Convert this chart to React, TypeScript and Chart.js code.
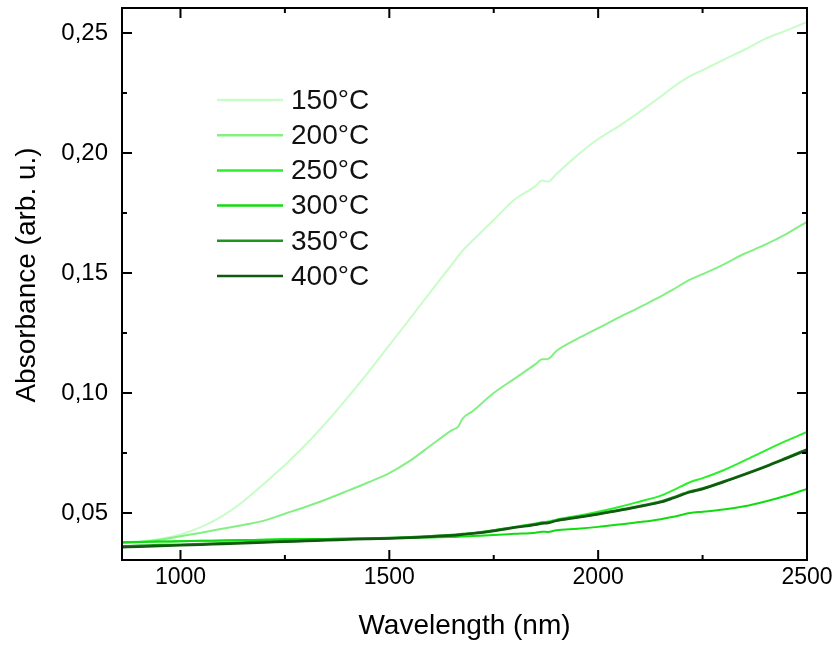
import { useEffect, useRef } from "react";
import { Chart, registerables } from "chart.js";

Chart.register(...registerables);

// ---- data ----
const WAVELENGTHS = [
  860, 900, 950, 1000, 1050, 1100, 1150, 1200, 1250, 1300, 1350, 1400, 1450, 1500, 1550, 1600, 1650, 1665,
  1675, 1700, 1750, 1800, 1850, 1865, 1880, 1900, 1950, 2000, 2050, 2100, 2150, 2180, 2220, 2250, 2300, 2350,
  2400, 2450, 2500,
];

const ABS_150 = [
  0.0378, 0.0382, 0.0392, 0.041, 0.0442, 0.0487, 0.0548, 0.0622, 0.07, 0.0785, 0.0879, 0.0981, 0.1087, 0.1199,
  0.1311, 0.1424, 0.1536, 0.157, 0.1592, 0.1636, 0.1721, 0.1806, 0.1862, 0.1885, 0.188, 0.1912, 0.199, 0.2058,
  0.2112, 0.2172, 0.2235, 0.2275, 0.232, 0.2345, 0.2388, 0.243, 0.2475, 0.251, 0.2546,
];
const ABS_200 = [
  0.0375, 0.0378, 0.0388, 0.0403, 0.0418, 0.0434, 0.045, 0.0468, 0.0497, 0.0526, 0.0557, 0.0592, 0.0628, 0.0666,
  0.0718, 0.0782, 0.0845, 0.086, 0.0892, 0.0925, 0.1, 0.106, 0.112, 0.114, 0.1142, 0.1175, 0.1225, 0.127, 0.1315,
  0.1358, 0.1402, 0.1432, 0.1472, 0.1495, 0.1535, 0.158, 0.1618, 0.1662, 0.1713,
];
const ABS_250 = [
  0.0378, 0.0379, 0.0381, 0.0382, 0.0384, 0.0385, 0.0387, 0.0388, 0.039, 0.0391, 0.0392, 0.0393, 0.0394, 0.0396,
  0.0399, 0.0402, 0.0407, 0.0409, 0.0411, 0.0416, 0.0428, 0.0442, 0.0456, 0.0461, 0.0464, 0.0472, 0.0488, 0.0505,
  0.0525, 0.0548, 0.0572, 0.0595, 0.0628, 0.0645, 0.0678, 0.0718, 0.076, 0.08, 0.0838,
];
const ABS_300 = [
  0.0378, 0.0379, 0.0381, 0.0382, 0.0384, 0.0385, 0.0387, 0.0388, 0.039, 0.0391, 0.0392, 0.0393, 0.0394, 0.0395,
  0.0396, 0.0398, 0.04, 0.0401, 0.0402, 0.0404, 0.0408, 0.0413, 0.0418, 0.0422, 0.0421, 0.0428, 0.0434, 0.0442,
  0.0452, 0.0462, 0.0474, 0.0484, 0.05, 0.0505, 0.0514, 0.0528, 0.0548, 0.0572, 0.06,
];
const ABS_350 = [
  0.0361, 0.0363, 0.0366, 0.0368, 0.0371, 0.0374, 0.0377, 0.038, 0.0383, 0.0386, 0.0389, 0.0391, 0.0394, 0.0396,
  0.0399, 0.0403, 0.0408, 0.041, 0.0412, 0.0416, 0.0427, 0.0441, 0.0453, 0.0458, 0.046, 0.0469, 0.0483, 0.0497,
  0.0512, 0.0529, 0.0548, 0.0565, 0.059, 0.0602, 0.0631, 0.0662, 0.0694, 0.0729, 0.0765,
];
const ABS_400 = [
  0.0357, 0.0359, 0.0362, 0.0365, 0.0368, 0.0371, 0.0374, 0.0377, 0.038, 0.0383, 0.0386, 0.0389, 0.0392, 0.0394,
  0.0397, 0.0401, 0.0406, 0.0408, 0.041, 0.0414, 0.0425, 0.0439, 0.0451, 0.0456, 0.0458, 0.0467, 0.0481, 0.0495,
  0.051, 0.0527, 0.0545, 0.0562, 0.0587, 0.06, 0.0629, 0.066, 0.0692, 0.0727, 0.0763,
];

const SERIES_LABELS = ["150°C", "200°C", "250°C", "300°C", "350°C", "400°C"];
const SERIES_VALUES = [ABS_150, ABS_200, ABS_250, ABS_300, ABS_350, ABS_400];
const SERIES_COLORS = ["#c8fcc8", "#84f084", "#2cf02c", "#10dc10", "#1e961e", "#0f5a0f"];
const SERIES_WIDTHS = [2, 2, 2, 2, 2.5, 2.5];

const X_MAJOR_TICKS = [1000, 1500, 2000, 2500];
const X_MINOR_TICKS = [1250, 1750, 2250];
const Y_MAJOR_TICKS = [0.05, 0.1, 0.15, 0.2, 0.25];
const Y_MINOR_TICKS = [0.075, 0.125, 0.175, 0.225];

const X_MIN = 860;
const X_MAX = 2500;
const Y_MIN = 0.0304;
const Y_MAX = 0.2604;

const X_TITLE = "Wavelength (nm)";
const Y_TITLE = "Absorbance (arb. u.)";

const FONT = "'Liberation Sans', Arial, sans-serif";

const framePlugin = {
  id: "frameTicks",
  afterDatasetsDraw(chart: any) {
    const { ctx, chartArea } = chart;
    const { left, right, top, bottom } = chartArea;
    const xs = chart.scales.x;
    const ys = chart.scales.y;
    ctx.save();
    ctx.strokeStyle = "#000";
    ctx.lineWidth = 2;
    ctx.strokeRect(left, top, right - left, bottom - top);
    const major = 10;
    const minor = 5;
    ctx.beginPath();
    const xTick = (v: number, len: number) => {
      const px = xs.getPixelForValue(v);
      ctx.moveTo(px, bottom);
      ctx.lineTo(px, bottom - len);
      ctx.moveTo(px, top);
      ctx.lineTo(px, top + len);
    };
    const yTick = (v: number, len: number) => {
      const py = ys.getPixelForValue(v);
      ctx.moveTo(left, py);
      ctx.lineTo(left + len, py);
      ctx.moveTo(right, py);
      ctx.lineTo(right - len, py);
    };
    X_MAJOR_TICKS.forEach((v) => xTick(v, major));
    X_MINOR_TICKS.forEach((v) => xTick(v, minor));
    Y_MAJOR_TICKS.forEach((v) => yTick(v, major));
    Y_MINOR_TICKS.forEach((v) => yTick(v, minor));
    ctx.stroke();

    // y-axis title (drawn slightly above the plot centre, as in the original)
    ctx.save();
    ctx.translate(27, 275);
    ctx.rotate(-Math.PI / 2);
    ctx.font = `28px ${FONT}`;
    ctx.fillStyle = "#000";
    ctx.textAlign = "center";
    ctx.textBaseline = "middle";
    ctx.fillText(Y_TITLE, 0, 0);
    ctx.restore();

    ctx.restore();
  },
};

const legendPlugin = {
  id: "insideLegend",
  afterDraw(chart: any) {
    const { ctx } = chart;
    const x0 = 217;
    const x1 = 283;
    const tx = 291;
    const y0 = 100;
    const dy = 35.2;
    ctx.save();
    ctx.font = `28px ${FONT}`;
    ctx.textBaseline = "middle";
    ctx.textAlign = "left";
    chart.data.datasets.forEach((ds: any, i: number) => {
      const y = y0 + i * dy;
      ctx.strokeStyle = ds.borderColor;
      ctx.lineWidth = 2.5;
      ctx.beginPath();
      ctx.moveTo(x0, y);
      ctx.lineTo(x1, y);
      ctx.stroke();
      ctx.fillStyle = "#111";
      ctx.fillText(ds.label, tx, y + 1);
    });
    ctx.restore();
  },
};

const zeroPadding = (s: any) => {
  s.paddingLeft = 0;
  s.paddingRight = 0;
  s.paddingTop = 0;
  s.paddingBottom = 0;
};

export default function App() {
  const ref = useRef<HTMLCanvasElement>(null);

  useEffect(() => {
    const datasets = SERIES_LABELS.map((label, i) => ({
      label,
      data: WAVELENGTHS.map((x, j) => ({ x, y: SERIES_VALUES[i][j] })),
      borderColor: SERIES_COLORS[i],
      backgroundColor: SERIES_COLORS[i],
      borderWidth: SERIES_WIDTHS[i],
      pointRadius: 0,
      fill: false,
      cubicInterpolationMode: "monotone" as const,
      order: SERIES_LABELS.length - i,
    }));

    const chart = new Chart(ref.current!, {
      type: "line",
      data: { datasets },
      plugins: [framePlugin, legendPlugin],
      options: {
        responsive: false,
        animation: false,
        layout: { padding: { left: 0, right: 27, top: 8, bottom: 0 } },
        plugins: { legend: { display: false }, tooltip: { enabled: false } },
        scales: {
          x: {
            type: "linear",
            min: X_MIN,
            max: X_MAX,
            afterBuildTicks: (s: any) => {
              s.ticks = X_MAJOR_TICKS.map((value) => ({ value }));
            },
            afterFit: (s: any) => {
              s.height = 86;
              zeroPadding(s);
            },
            grid: { display: false, drawTicks: false, tickLength: 0 },
            border: { display: false },
            ticks: {
              padding: 4,
              maxRotation: 0,
              autoSkip: false,
              color: "#000",
              font: { family: FONT, size: 23 },
              callback: (v: any) => String(v),
            },
            title: {
              display: true,
              text: X_TITLE,
              color: "#000",
              font: { family: FONT, size: 28 },
              padding: { top: 0, bottom: 3 },
            },
          },
          y: {
            type: "linear",
            min: Y_MIN,
            max: Y_MAX,
            afterBuildTicks: (s: any) => {
              s.ticks = Y_MAJOR_TICKS.map((value) => ({ value }));
            },
            afterFit: (s: any) => {
              s.width = 122;
              zeroPadding(s);
            },
            grid: { display: false, drawTicks: false, tickLength: 0 },
            border: { display: false },
            ticks: {
              padding: 14,
              autoSkip: false,
              color: "#000",
              font: { family: FONT, size: 24 },
              callback: (v: any) => Number(v).toFixed(2).replace(".", ","),
            },
            title: { display: false },
          },
        },
      },
    });
    return () => chart.destroy();
  }, []);

  return (
    <div style={{ position: "absolute", left: 0, top: 0, width: 834, height: 646, background: "#fff" }}>
      <canvas ref={ref} width={834} height={646} style={{ display: "block", width: 834, height: 646 }} />
    </div>
  );
}
